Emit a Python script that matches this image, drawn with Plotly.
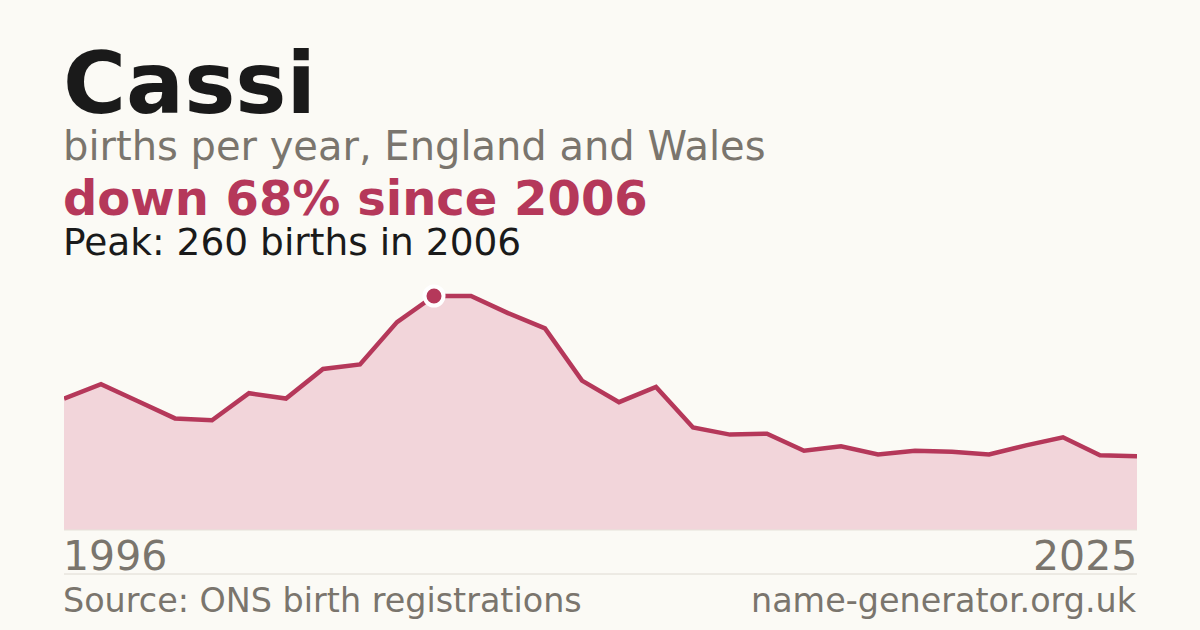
import plotly.graph_objects as go

years = list(range(1996, 2026))
births = [146, 162, 143, 124, 122, 152, 146, 179, 184, 231,
          260, 260, 241, 224, 166, 142, 159, 114, 106, 107,
          88, 93, 84, 88, 87, 84, 94, 103, 83, 82]

name = "Cassi"
subtitle = "births per year, England and Wales"
headline = "down 68% since 2006"
peak_text = "Peak: 260 births in 2006"
source = "Source: ONS birth registrations"
site = "name-generator.org.uk"

peak_year = 2006
peak_val = 260

BG = "#fbfaf5"
RED = "#b5385a"
FILL = "#f2d5da"
GREY = "#7a756d"
INK = "#1a1a1a"
FONT = "DejaVu Sans"

W, H = 1200, 630
L, R, T, B = 64, 63, 280, 100
ph = H - T - B

def py(pix):
    return (H - B - pix) / ph

fig = go.Figure()
fig.add_trace(go.Scatter(
    x=years, y=births, mode="lines",
    line=dict(color=RED, width=4.5),
    fill="tozeroy", fillcolor=FILL,
    hoverinfo="skip",
))
fig.add_trace(go.Scatter(
    x=[peak_year], y=[peak_val], mode="markers",
    marker=dict(size=19, color=RED, line=dict(color="white", width=4)),
    hoverinfo="skip",
))

ann = []
def txt(s, x, pix, size, color, bold=False, xanchor="left"):
    ann.append(dict(
        text=f"<b>{s}</b>" if bold else s,
        x=x, y=py(pix), xref="paper", yref="paper",
        xanchor=xanchor, yanchor="middle", showarrow=False,
        borderpad=0,
        font=dict(family=FONT, size=size, color=color),
    ))

LX, RX = -0.002, 1.001
txt(name, LX, 83, 86, INK, bold=True)
txt(subtitle, LX, 146, 40, GREY)
txt(headline, LX, 198, 48, RED, bold=True)
txt(peak_text, LX, 242, 37.5, INK)
txt(str(years[0]), LX, 556, 41, GREY)
txt(str(years[-1]), RX, 556, 41, GREY, xanchor="right")
txt(source, LX, 600, 33.4, GREY)
txt(site, RX, 600, 33.4, GREY, xanchor="right")

fig.update_layout(
    width=W, height=H,
    margin=dict(l=L, r=R, t=T, b=B),
    paper_bgcolor=BG, plot_bgcolor=BG,
    showlegend=False,
    annotations=ann,
    shapes=[
        dict(type="line", xref="paper", yref="paper", x0=0, x1=1,
             y0=py(574), y1=py(574), line=dict(color="#dedad2", width=1)),
        dict(type="line", xref="paper", yref="paper", x0=0, x1=1,
             y0=0, y1=0, line=dict(color="#e6e2da", width=1)),
    ],
    xaxis=dict(range=[years[0], years[-1]], visible=False, fixedrange=True),
    yaxis=dict(range=[0, ph / 0.9], visible=False, fixedrange=True),
)
fig.write_html(
    "out.html",
    config={"displayModeBar": False},
    post_script="document.body.style.margin='0';document.body.style.background='#fbfaf5';",
)
